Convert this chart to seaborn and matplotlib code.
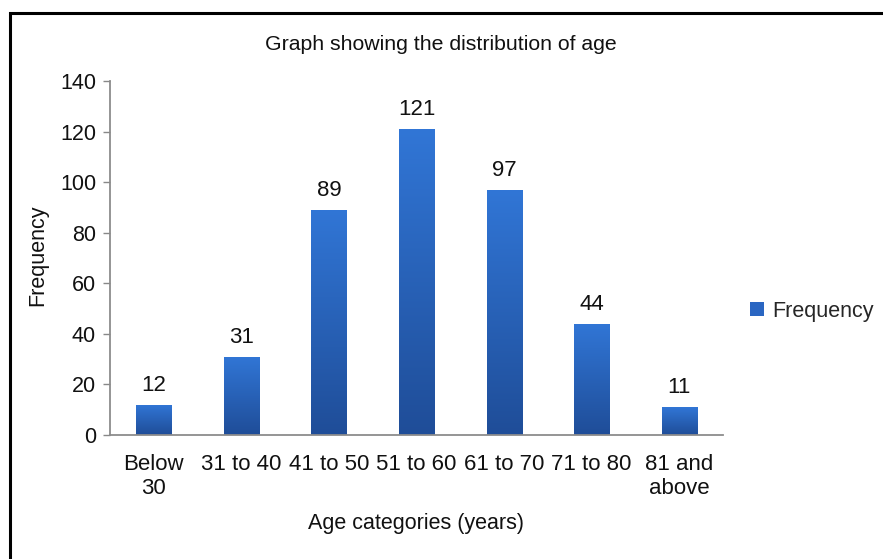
import numpy as np
import pandas as pd
import matplotlib
matplotlib.use("Agg")
import matplotlib.pyplot as plt
from matplotlib.patches import Rectangle, Patch
from matplotlib.colors import LinearSegmentedColormap
import seaborn as sns

categories = ["Below\n30", "31 to 40", "41 to 50", "51 to 60", "61 to 70", "71 to 80", "81 and\nabove"]
frequency = [12, 31, 89, 121, 97, 44, 11]
y_ticks = [0, 20, 40, 60, 80, 100, 120, 140]

df = pd.DataFrame({"Age": categories, "Frequency": frequency})

sns.set_theme(style="white")
plt.rcParams["font.family"] = ["Liberation Sans", "DejaVu Sans"]

fs = 15.5
fig = plt.figure(figsize=(8.83, 5.59), dpi=100)
ax = fig.add_axes([110 / 883, 1 - 435 / 559, (723 - 110) / 883, (435 - 81) / 559])

bar_top = "#3176d6"
bar_bottom = "#1f4d98"
sns.barplot(data=df, x="Age", y="Frequency", color=bar_top, width=0.4,
            saturation=1, ax=ax, edgecolor="none")

# vertical gradient fill for each bar, clipped to the bar shape
grad_cmap = LinearSegmentedColormap.from_list("bar_grad", [bar_bottom, bar_top])
gradient = np.linspace(0, 1, 256).reshape(-1, 1)
for patch in ax.patches:
    x0, y0 = patch.get_x(), patch.get_y()
    w, h = patch.get_width(), patch.get_height()
    im = ax.imshow(gradient, cmap=grad_cmap, aspect="auto", origin="lower",
                   extent=[x0, x0 + w, y0, y0 + h], zorder=patch.get_zorder() + 0.1)
    im.set_clip_path(patch)

for i, v in enumerate(frequency):
    ax.text(i, v + 3.5, str(v), ha="center", va="bottom", fontsize=16, color="#111111")

ax.set_xlim(-0.5, len(categories) - 0.5)
ax.set_ylim(0, 140)
ax.set_yticks(y_ticks)
ax.set_yticklabels([str(t) for t in y_ticks], fontsize=fs, color="#111111")
ax.tick_params(axis="y", direction="out", length=5, width=1, color="#888888", pad=5, left=True)
ax.tick_params(axis="x", length=0, pad=14, labelsize=16, labelcolor="#111111")
for lbl in ax.get_xticklabels():
    lbl.set_linespacing(1.15)

for side in ["top", "right"]:
    ax.spines[side].set_visible(False)
for side in ["left", "bottom"]:
    ax.spines[side].set_color("#8c8c8c")
    ax.spines[side].set_linewidth(1.3)

ax.set_xlabel("")
ax.set_ylabel("")
fig.text(38 / 883, 1 - 255 / 559, "Frequency", rotation=90, ha="center", va="center",
         fontsize=fs, color="#111111")
fig.text(416 / 883, 1 - 524 / 559, "Age categories (years)", ha="center", va="center",
         fontsize=fs, color="#111111")
fig.text(441 / 883, 1 - 45 / 559, "Graph showing the distribution of age", ha="center",
         va="center", fontsize=15.3, color="#111111")

handle = Patch(facecolor="#2a66c2", edgecolor="none")
fig.legend([handle], ["Frequency"], loc="center left", bbox_to_anchor=(746 / 883, 1 - 311 / 559),
           frameon=False, fontsize=15.5, handlelength=0.62, handleheight=0.62, handletextpad=0.42,
           borderpad=0.2, borderaxespad=0)

# figure frame
fig.patches.append(Rectangle((10 / 883, -0.05), 1.05, 1 - 13 / 559 + 0.05, transform=fig.transFigure,
                             fill=False, edgecolor="black", linewidth=2.2))

fig.savefig("out.png", dpi=100, facecolor="white")
